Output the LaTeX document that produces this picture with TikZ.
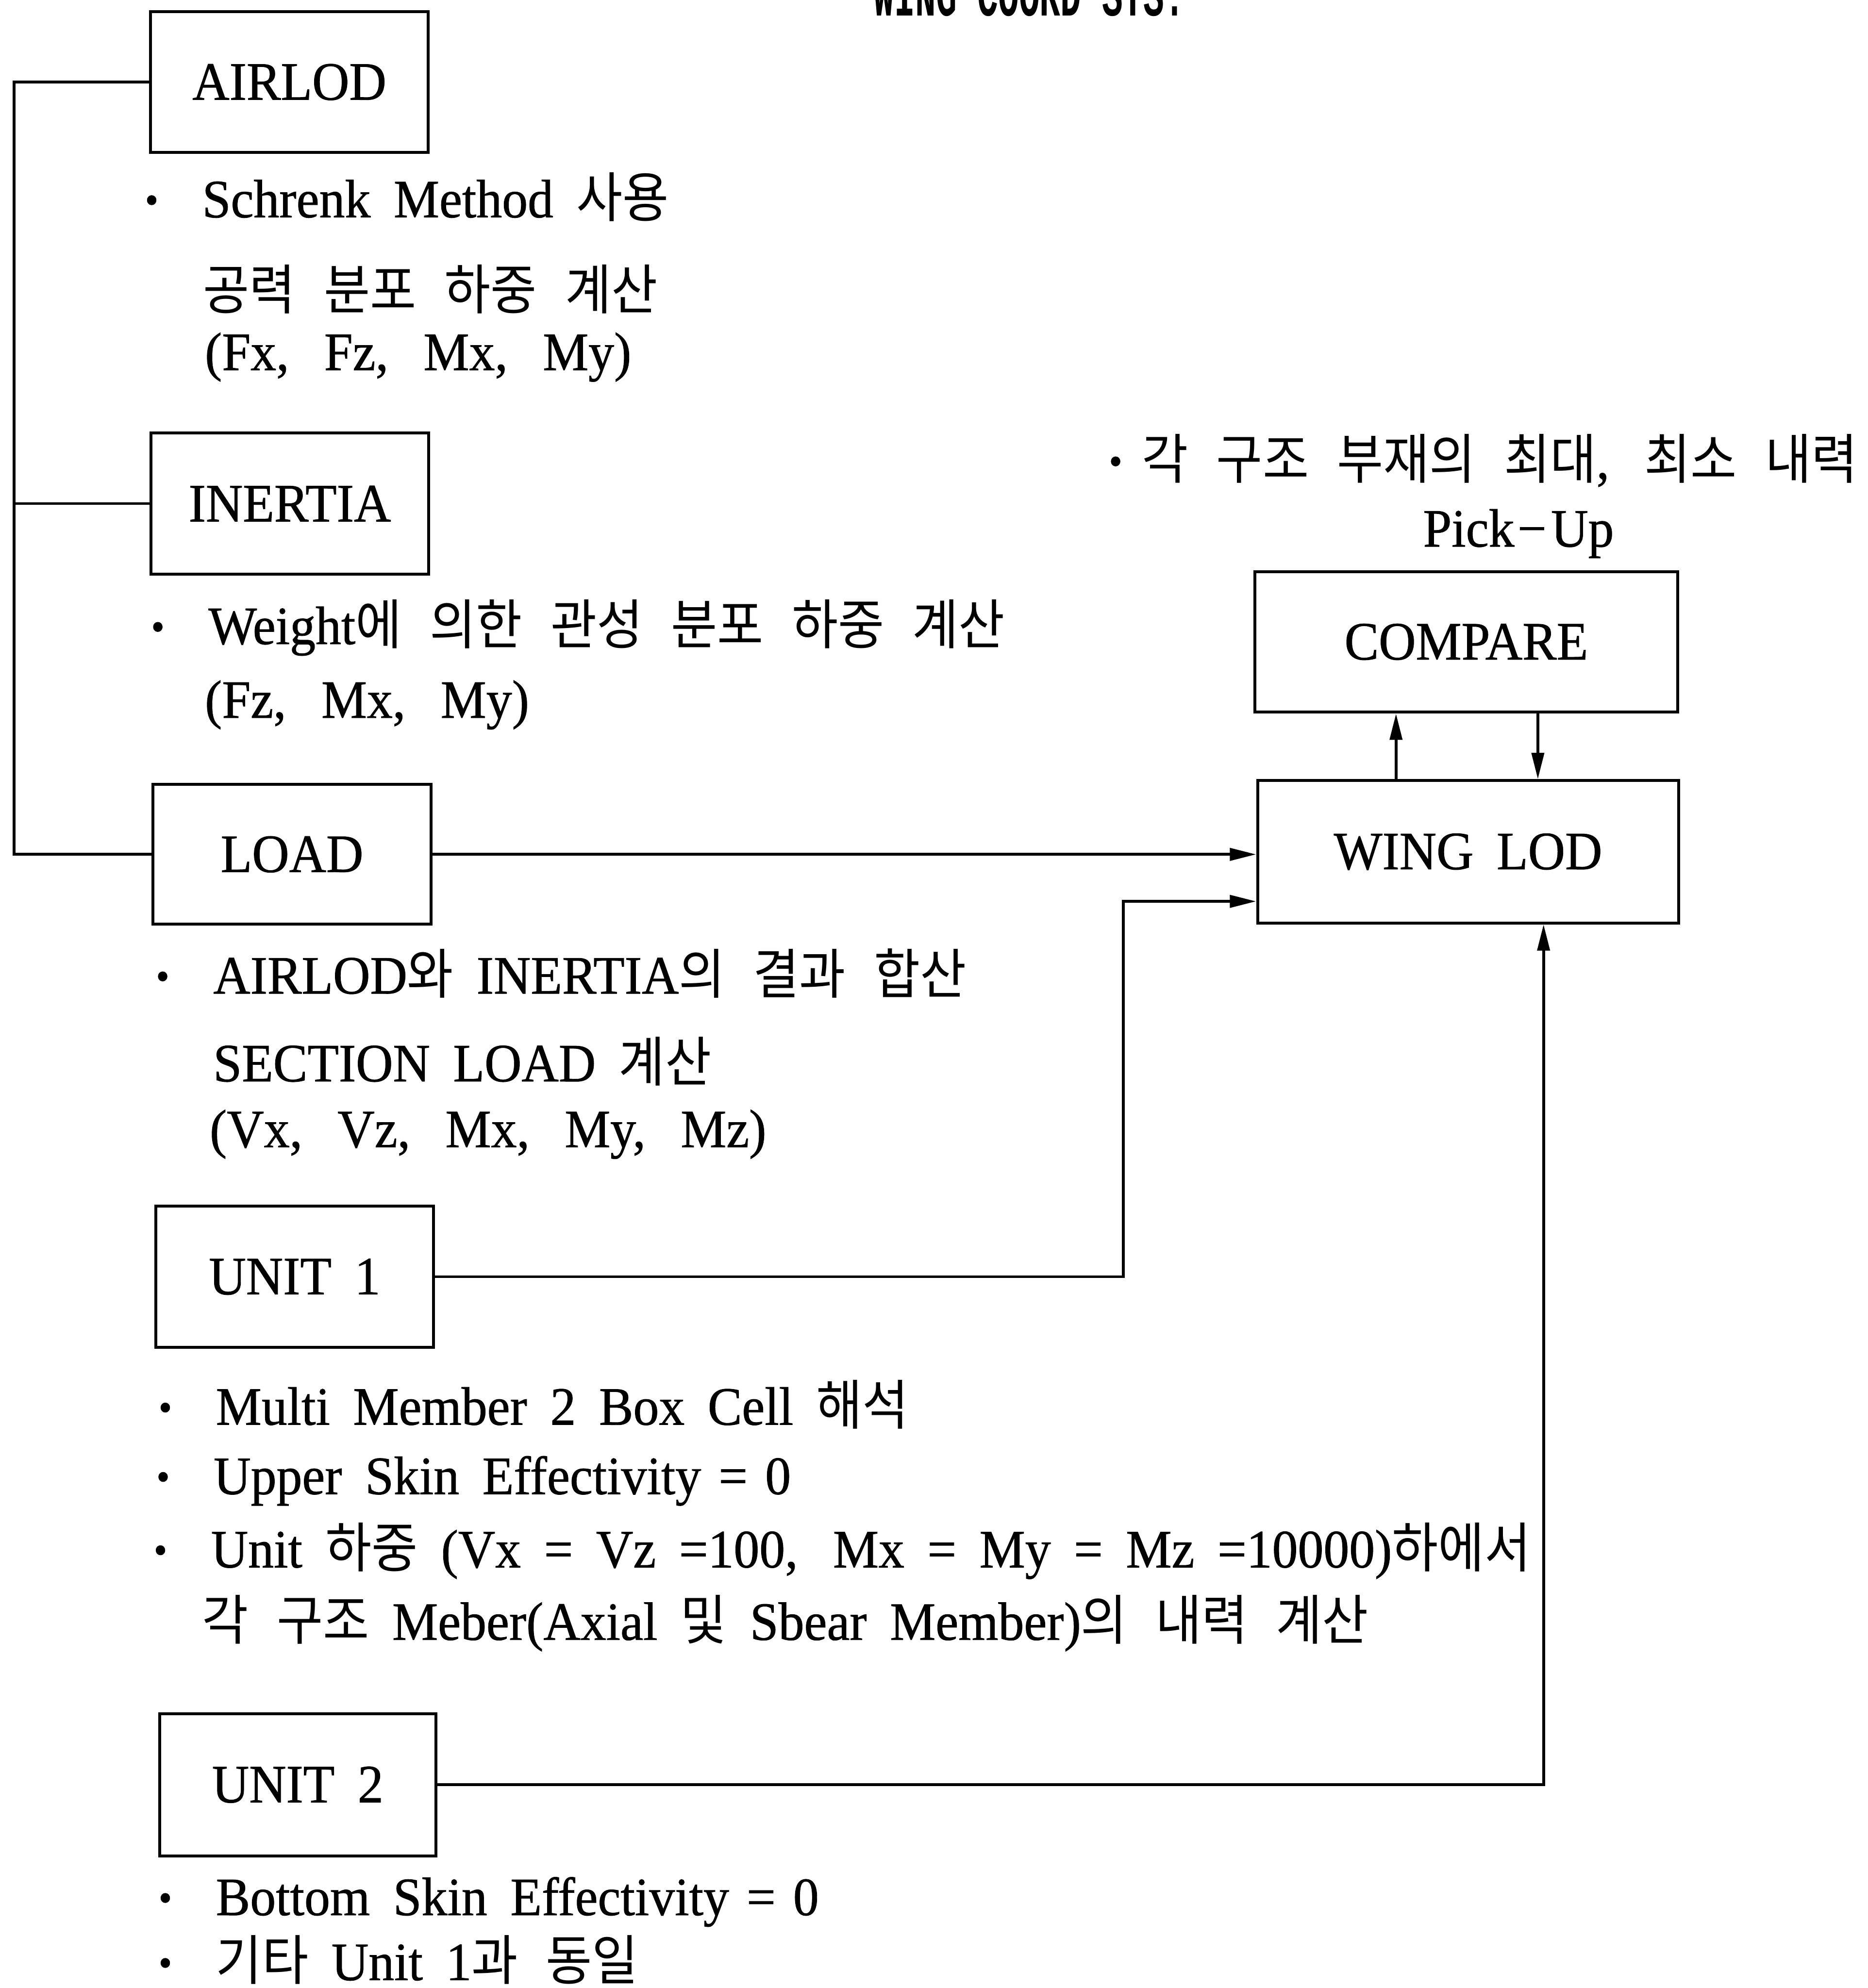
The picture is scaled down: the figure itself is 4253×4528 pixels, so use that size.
\documentclass[tikz,border=0pt]{standalone}
\usepackage{fontspec}
\setmainfont{Liberation Serif}[FakeStretch=0.95,WordSpace=1.8,FakeBold=0.8]
\newfontfamily\krf{Noto Sans CJK KR}[FakeStretch=0.93,WordSpace=2.5]
\newfontfamily\ttf{Liberation Mono}[FakeStretch=0.56]
\usetikzlibrary{arrows.meta}
\newcommand\hk[1]{{\krf\fontsize{35}{42}\selectfont #1}}
\newcommand\bdot{\raisebox{2.5pt}{\fontsize{26}{30}\selectfont •}}
\newcommand\bul{\llap{\bdot\hspace{1.0cm}}}
\newcommand\cmg{,\hspace{0.8cm}}
\newcommand\sps{\hspace{0.4cm}}
\tikzset{
  txt/.style={anchor=base west, inner sep=0pt, font=\fontsize{35}{42}\selectfont},
  bx/.style={draw, line width=1.9pt, inner sep=0pt, font=\fontsize{35}{42}\selectfont},
  ln/.style={line width=1.8pt},
  arr/.style={ln, -{Triangle[length=17pt,width=8pt]}}
}
\begin{document}
\begin{tikzpicture}[x=0.01cm,y=-0.01cm]
\useasboundingbox (0,0) rectangle (4253,4528);
% title (cut off at top)
\node[anchor=base west, inner sep=0pt, font=\ttf\bfseries\fontsize{40}{48}\selectfont] (title) at (1989,36) {WING COORD SYS.};
% boxes
\node[bx, minimum width=6.32cm, minimum height=3.20cm] (AIRLOD) at (659,187) {AIRLOD};
\node[bx, minimum width=6.32cm, minimum height=3.21cm] (INERTIA) at (660,1147) {INERTIA};
\node[bx, minimum width=6.33cm, minimum height=3.18cm] (LOAD) at (665,1946) {LOAD};
\node[bx, minimum width=6.32cm, minimum height=3.21cm] (UNIT1) at (671,2908) {UNIT 1};
\node[bx, minimum width=6.29cm, minimum height=3.24cm] (UNIT2) at (678,4065) {UNIT 2};
\node[bx, minimum width=9.62cm, minimum height=3.20cm] (COMPARE) at (3339,1462) {COMPARE};
\node[bx, minimum width=9.58cm, minimum height=3.24cm] (WING) at (3343,1940) {WING LOD};
% texts
\node[txt] (t1) at (460,495) {\bul Schrenk Method \hk{사용}};
\node[txt] (t2) at (462,705) {\hk{공력 분포 하중 계산}};
\node[txt] (t3) at (466,843) {(Fx\cmg Fz\cmg Mx\cmg My)};
\node[txt] (t4) at (2600,1090) {\llap{\bdot\hspace{0.45cm}}\hk{각 구조 부재의 최대}\cmg\hk{최소 내력}};
\node[txt] (t5) at (3240,1245) {Pick\kern2pt−\kern3pt Up};
\node[txt] (t6) at (474,1467) {\bul Weight\hk{에 의한 관성 분포 하중 계산}};
\node[txt] (t7) at (466,1635) {(Fz\cmg Mx\cmg My)};
\node[txt] (t8) at (485,2263) {\bul AIRLOD\hk{와} INERTIA\hk{의 결과 합산}};
\node[txt] (t9) at (485,2463) {SECTION LOAD \hk{계산}};
\node[txt] (t10) at (477,2613) {(Vx\cmg Vz\cmg Mx\cmg My\cmg Mz)};
\node[txt] (t11) at (491,3245) {\bul Multi Member 2 Box Cell \hk{해석}};
\node[txt] (t12) at (486,3403) {\bul Upper Skin Effectivity\sps=\sps 0};
\node[txt] (t13) at (480,3570) {\bul Unit \hk{하중} (Vx = Vz =100\cmg Mx = My = Mz =10000)\hk{하에서}};
\node[txt] (t14) at (460,3735) {\hk{각 구조} Meber(Axial \hk{및} Sbear Member)\hk{의 내력 계산}};
\node[txt] (t15) at (491,4362) {\bul Bottom Skin Effectivity\sps=\sps 0};
\node[txt] (t16) at (491,4510) {\bul \hk{기타} Unit 1\hk{과 동일}};
% connectors
\coordinate (bus) at (32,0);
\draw[ln] (AIRLOD.west) -- (AIRLOD.west -| bus) |- (LOAD.west);
\draw[ln] (INERTIA.west) -- (INERTIA.west -| bus);
\draw[arr] (LOAD.east) -- (LOAD.east -| WING.west);
\coordinate (k1) at (2558,2053);
\draw[arr] (UNIT1.east) -| (k1) -- (k1 -| WING.west);
\coordinate (k2) at (3515,0);
\draw[arr] (UNIT2.east) -| (k2 |- WING.south);
\coordinate (k3) at (3179,0);
\coordinate (k4) at (3502,0);
\draw[arr] (k3 |- WING.north) -- (k3 |- COMPARE.south);
\draw[arr] (k4 |- COMPARE.south) -- (k4 |- WING.north);
\end{tikzpicture}
\end{document}
